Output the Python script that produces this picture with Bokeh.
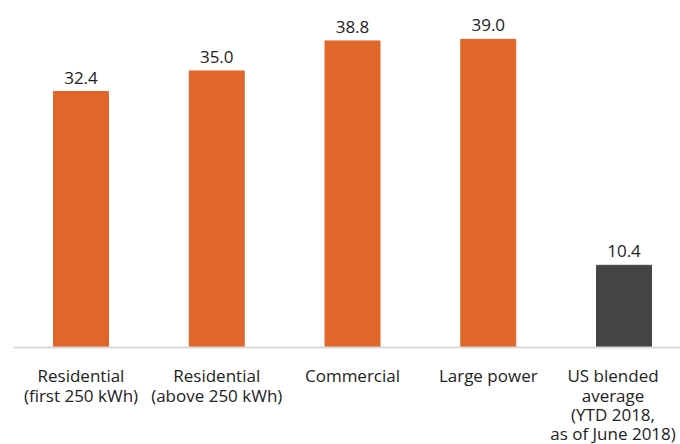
from bokeh.plotting import figure
from bokeh.models import ColumnDataSource, Range1d, LabelSet, Span
from bokeh.core.properties import value
from bokeh.embed import file_html
from bokeh.resources import INLINE

categories = ["Residential\n(first 250 kWh)", "Residential\n(above 250 kWh)", "Commercial",
              "Large power", "US blended\naverage\n(YTD 2018,\nas of June 2018)"]
values = [32.4, 35.0, 38.8, 39.0, 10.4]
colors = ["#E0662A", "#E0662A", "#E0662A", "#E0662A", "#454545"]

xs = list(range(len(categories)))
src = ColumnDataSource(dict(x=xs, top=values, color=colors,
                            label=[f"{v:.1f}" for v in values]))

# one row per line of each category label, so that every line is centred
LINE_GAP = 19.3
FIRST_BASELINE = 35
LAST_SHIFT = -11  # the last (long) label is nudged left to stay inside the chart
lx, ltext, loff, lxoff, lbase = [], [], [], [], []
for i, cat in enumerate(categories):
    for j, line in enumerate(cat.split("\n")):
        lx.append(i)
        ltext.append(line)
        loff.append(-(FIRST_BASELINE + j * LINE_GAP))
        lxoff.append(LAST_SHIFT if i == len(categories) - 1 else 0)
        lbase.append(0)
lsrc = ColumnDataSource(dict(x=lx, y=lbase, text=ltext, off=loff, xoff=lxoff))

FONT = "Open Sans"

p = figure(width=680, height=444, output_backend="svg", toolbar_location=None,
           x_range=Range1d(-0.497, 4.416), y_range=Range1d(-12.28, 43.92),
           min_border_left=13, min_border_right=0, min_border_top=0, min_border_bottom=0)
p.vbar(x="x", top="top", bottom=0, width=0.405, color="color", source=src)
p.add_layout(LabelSet(x="x", y="top", text="label", source=src, text_align="center",
                      text_baseline="alphabetic", y_offset=8, text_font=value(FONT),
                      text_font_size="17px", text_color="#222222"))

p.xaxis.visible = False
p.yaxis.visible = False
p.grid.visible = False
p.outline_line_color = None
p.add_layout(Span(location=0, dimension="width", line_color="#d9d9d9", line_width=2))

# category labels below the axis line
p.add_layout(LabelSet(x="x", y="y", text="text", source=lsrc, text_align="center",
                      text_baseline="alphabetic", y_offset="off", x_offset="xoff",
                      text_font=value(FONT), text_font_size="17px", text_color="#222222"))

open("out.html", "w").write(file_html(p, INLINE))
